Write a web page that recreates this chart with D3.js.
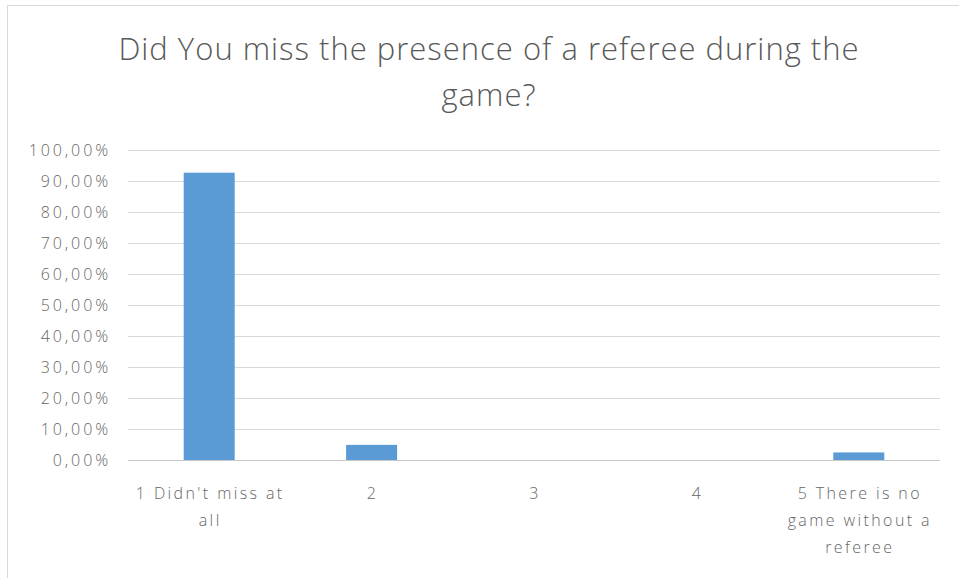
<!DOCTYPE html>
<html><head><meta charset="utf-8">
<script src="https://cdn.jsdelivr.net/npm/d3@7"></script>
<style>body{margin:0;background:#fff}svg{display:block}</style>
</head><body>
<script>
const categories = ["1 Didn't miss at all", "2", "3", "4", "5 There is no game without a referee"];
const categoryLines = [["1 Didn't miss at", "all"], ["2"], ["3"], ["4"], ["5 There is no", "game without a", "referee"]];
const values = [0.9268, 0.0488, 0, 0, 0.0244];
const yTicks = [0, 0.1, 0.2, 0.3, 0.4, 0.5, 0.6, 0.7, 0.8, 0.9, 1.0];
const titleLines = ["Did You miss the presence of a referee during the", "game?"];

const W = 959, H = 578;
const svg = d3.select("body").append("svg").attr("width", W).attr("height", H);
svg.append("rect").attr("x", 7.5).attr("y", 5.5).attr("width", 960).attr("height", 600)
  .attr("fill", "#fff").attr("stroke", "#d9d9d9");

const font = "'Open Sans', sans-serif";
const x = d3.scaleBand().domain(categories).range([128, 940]).paddingInner(0.686).paddingOuter(0.343);
const y = d3.scaleLinear().domain([0, 1]).range([460, 150]);

const fmt = v => d3.format(".2f")(v * 100).replace(".", ",") + "%";

// gridlines
svg.append("g").selectAll("line").data(yTicks).join("line")
  .attr("x1", 128).attr("x2", 940)
  .attr("y1", d => Math.round(y(d)) + 0.5).attr("y2", d => Math.round(y(d)) + 0.5)
  .attr("stroke", d => d === 0 ? "#c8c8c8" : "#d9d9d9").attr("stroke-width", 1);

// y axis labels
const yAxis = d3.axisLeft(y).tickValues(yTicks).tickFormat(fmt).tickSize(0).tickPadding(17);
const gy = svg.append("g").attr("transform", "translate(128,0)").call(yAxis);
gy.select(".domain").remove();
gy.selectAll("text").attr("fill", "#666").attr("dy", "0.36em").style("font-family", font)
  .style("font-size", "16px").style("font-weight", 300).style("letter-spacing", "2.9px");

// bars
svg.append("g").selectAll("rect").data(categories).join("rect")
  .attr("x", d => x(d)).attr("width", x.bandwidth())
  .attr("y", (d, i) => y(values[i])).attr("height", (d, i) => y(0) - y(values[i]))
  .attr("fill", "#5b9bd5");

// x labels
const xl = svg.append("g").selectAll("text").data(categories).join("text")
  .attr("x", d => x(d) + x.bandwidth() / 2 + 1).attr("y", 499)
  .attr("text-anchor", "middle").attr("fill", "#666")
  .style("font-family", font).style("font-size", "16px").style("font-weight", 300)
  .style("letter-spacing", "2.4px");
xl.each(function(d, i) {
  d3.select(this).selectAll("tspan").data(categoryLines[i]).join("tspan")
    .attr("x", x(d) + x.bandwidth() / 2 + 1).attr("dy", (t, j) => j === 0 ? 0 : 27).text(t => t);
});

// title
svg.append("g").selectAll("text").data(titleLines).join("text")
  .attr("x", 489).attr("y", (d, i) => 60 + i * 46)
  .attr("text-anchor", "middle").attr("fill", "#595959")
  .style("font-family", font).style("font-size", "31px").style("font-weight", 300)
  .style("letter-spacing", "1px")
  .text(d => d);
</script>
</body></html>
